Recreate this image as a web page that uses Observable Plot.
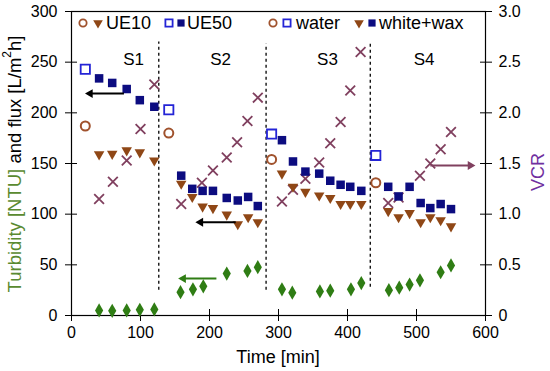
<!DOCTYPE html>
<html><head><meta charset="utf-8">
<script src="https://cdn.jsdelivr.net/npm/d3@7"></script>
<script src="https://cdn.jsdelivr.net/npm/@observablehq/plot@0.6"></script>
<style>
body{margin:0;background:#fff;font-family:"Liberation Sans",Arial,sans-serif}
#chart{position:relative;width:550px;height:371px}
</style>
</head><body><div id="chart"></div>
<script>
// ---- data ----
const waterT = [20, 141, 290, 441];
const waterUE10 = [187, 180, 154, 131];
const waterUE50 = [243, 203, 179, 158];

const wwT = [40, 59, 80, 99, 120, 159, 175, 190, 205, 225, 241, 256, 270, 305, 321, 339, 359, 375, 390, 404, 420, 459, 474, 490, 506, 520, 535, 550];
const wwUE50 = [234, 229.5, 223.5, 212.5, 206, 138, 125, 123, 123, 116, 113.5, 117, 108, 173, 152, 142, 140, 133, 129, 127, 123, 127, 117.5, 127, 111, 106, 110, 105];
const wwUE10 = [159, 159.5, 163, 161, 153, 130, 117, 107.5, 106, 99.6, 90, 97, 92, 140, 127, 122, 118.5, 116, 110, 110, 110, 103, 97, 101, 92, 97, 94, 88];

const vcrT = [40, 60, 80, 100, 120, 159, 189, 205, 225, 240, 255, 270, 305, 321, 339, 359, 375, 390, 404, 419, 459, 474, 505, 520, 535, 550];
const vcr = [1.15, 1.32, 1.53, 1.84, 2.28, 1.10, 1.31, 1.43, 1.56, 1.71, 1.92, 2.15, 1.125, 1.24, 1.35, 1.51, 1.70, 1.91, 2.22, 2.60, 1.11, 1.165, 1.38, 1.50, 1.64, 1.81];

const turbT = [40, 59, 80, 99, 120, 158, 176, 191, 225, 255, 270, 305, 320, 360, 375, 405, 420, 460, 475, 490, 505, 535, 550];
const turb = [5, 4.6, 5, 5.6, 6, 23, 25.8, 28.8, 41.4, 44, 47.7, 25.8, 22.5, 23.8, 24.5, 25.8, 32, 25, 27.5, 30.5, 34.7, 42.7, 49.4];

const segNames = ["S1", "S2", "S3", "S4"];
const segLabelT = [90, 216, 371, 511];
const segLabelY = 253;
const dividerT = [126.5, 282, 433];
const dividerY1 = [25, 25, 28];
const dividerY2 = [270, 268, 270];

// arrows: start x, tip x, y
const arrowX1 = [76, 238, 210, 520];
const arrowX2 = [27, 187, 162, 578];
const arrowY = [219, 92, 36.4, 148];

const xTicks = [0, 100, 200, 300, 400, 500, 600];
const yTicks = [0, 50, 100, 150, 200, 250, 300];
const vcrTickLabels = ["0", "0.5", "1.0", "1.5", "2.0", "2.5", "3.0"];

// ---- colors ----
const cBrown = "#8f4716", cCircle = "#a0522d", cNavy = "#0c0c80", cBlue = "#2424d6";
const cCross = "#80405f", cGreen = "#2f7d14", cPurple = "#7030a0", cTurbLabel = "#5a8a30";

// ---- tables ----
const water10 = waterT.map((t, i) => ({t, v: waterUE10[i]}));
const water50 = waterT.map((t, i) => ({t, v: waterUE50[i]}));
const ww50 = wwT.map((t, i) => ({t, v: wwUE50[i]}));
const ww10 = wwT.map((t, i) => ({t, v: wwUE10[i]}));
const vcrData = vcrT.map((t, i) => ({t, v: vcr[i] * 100}));
const turbData = turbT.map((t, i) => ({t, v: turb[i]}));
const segs = segNames.map((s, i) => ({s, t: segLabelT[i], v: segLabelY}));
const divs = dividerT.map((t, i) => ({t, y1: dividerY1[i], y2: dividerY2[i]}));
const arrowColors = ["black", "black", cGreen, cCross];
const arrows = arrowX1.map((x1, i) => ({x1, x2: arrowX2[i], y: arrowY[i], c: arrowColors[i],
  rot: arrowX2[i] > x1 ? 90 : -90}));

const svg = Plot.plot({
  width: 550, height: 371,
  marginLeft: 71, marginRight: 65, marginTop: 11, marginBottom: 56,
  style: {fontFamily: "Liberation Sans, Arial, sans-serif", fontSize: "16px", color: "black", background: "white"},
  x: {domain: [0, 600]},
  y: {domain: [0, 300]},
  marks: [
    Plot.frame({stroke: "black", strokeWidth: 1.2}),
    Plot.axisX({ticks: xTicks, tickSize: 6, tickPadding: 5, label: null, fontSize: 16, tickFormat: d => String(d)}),
    Plot.axisX({ticks: xTicks, tickSize: -6, tickFormat: () => "", label: null}),
    Plot.axisY({ticks: yTicks, tickSize: 6, tickPadding: 8, label: null, fontSize: 16, tickFormat: d => String(d)}),
    Plot.axisY({ticks: yTicks, tickSize: -6, tickFormat: () => "", label: null}),
    Plot.axisY({anchor: "right", ticks: yTicks, tickSize: 6, tickPadding: 7, label: null, fontSize: 16,
      tickFormat: d => vcrTickLabels[yTicks.indexOf(d)]}),
    Plot.axisY({anchor: "right", ticks: yTicks, tickSize: -6, tickFormat: () => "", label: null}),
    Plot.ruleX(divs, {x: "t", y1: "y1", y2: "y2", stroke: "black", strokeWidth: 1.3, strokeDasharray: "3,3"}),
    Plot.text(segs, {x: "t", y: "v", text: "s", fontSize: 17, fill: "black"}),
    Plot.dot(vcrData, {x: "t", y: "v", symbol: "times", r: 4.5, stroke: cCross, strokeWidth: 1.8}),
    Plot.dot(turbData, {x: "t", y: "v", symbol: "diamond", r: 4.3, fill: cGreen, stroke: "none"}),
    Plot.dot(ww10, {x: "t", y: "v", symbol: "triangle", r: 3.9, fill: cBrown, stroke: "none", rotate: 180}),
    Plot.dot(ww50, {x: "t", y: "v", symbol: "square", r: 4.8, fill: cNavy, stroke: "none"}),
    Plot.dot(water10, {x: "t", y: "v", symbol: "circle", r: 4.5, fill: "none", stroke: cCircle, strokeWidth: 2}),
    Plot.dot(water50, {x: "t", y: "v", symbol: "square", r: 5.2, fill: "none", stroke: cBlue, strokeWidth: 1.8}),
    Plot.link(arrows, {x1: "x1", x2: "x2", y1: "y", y2: "y", stroke: "c", strokeWidth: 2}),
    Plot.dot(arrows, {x: "x2", y: "y", symbol: "triangle", r: 3.3, fill: "c", stroke: "none", rotate: "rot"})
  ]
});
document.getElementById("chart").appendChild(svg);

// ---- titles & legend ----
const s = d3.select(svg);
const font = "Liberation Sans, Arial, sans-serif";
const yl = s.append("text")
  .attr("transform", "translate(14,164) rotate(-90)")
  .attr("text-anchor", "middle").attr("dominant-baseline", "central")
  .attr("font-family", font).attr("font-size", 18.5);
yl.append("tspan").attr("fill", cTurbLabel).text("Turbidity [NTU]");
yl.append("tspan").attr("fill", "black").text(" and flux [L/m");
yl.append("tspan").attr("fill", "black").attr("font-size", 12).attr("dy", -7).text("2");
yl.append("tspan").attr("fill", "black").attr("dy", 7).text("h]");

s.append("text").attr("x", 278).attr("y", 357).attr("text-anchor", "middle")
  .attr("dominant-baseline", "central").attr("font-family", font).attr("font-size", 18).text("Time [min]");

s.append("text").attr("transform", "translate(538,172) rotate(-90)").attr("text-anchor", "middle")
  .attr("dominant-baseline", "central").attr("font-family", font).attr("font-size", 18)
  .attr("fill", cPurple).text("VCR");

const legendItems = [
  {syms: [["circle", cCircle, false, 83], ["tri", cBrown, true, 98]], label: "UE10", x: 106},
  {syms: [["square", cBlue, false, 169], ["square", cNavy, true, 181]], label: "UE50", x: 187},
  {syms: [["circle", cCircle, false, 273], ["square", cBlue, false, 287]], label: "water", x: 296},
  {syms: [["tri", cBrown, true, 359], ["square", cNavy, true, 372]], label: "white+wax", x: 379}
];
const ly = 23;
const lg = s.append("g");
for (const it of legendItems) {
  for (const [kind, col, filled, x] of it.syms) {
    const type = kind === "circle" ? d3.symbolCircle : kind === "square" ? d3.symbolSquare : d3.symbolTriangle;
    const size = kind === "circle" ? 42 : kind === "square" ? 52 : 40;
    lg.append("path")
      .attr("d", d3.symbol(type, size)())
      .attr("transform", `translate(${x},${ly})` + (kind === "tri" ? " rotate(180)" : ""))
      .attr("fill", filled ? col : "none")
      .attr("stroke", filled ? "none" : col)
      .attr("stroke-width", filled ? 0 : 1.8);
  }
  lg.append("text").attr("x", it.x).attr("y", ly).attr("dominant-baseline", "central")
    .attr("text-anchor", "start")
    .attr("font-family", font).attr("font-size", 18).attr("fill", "black").text(it.label);
}
</script></body></html>
